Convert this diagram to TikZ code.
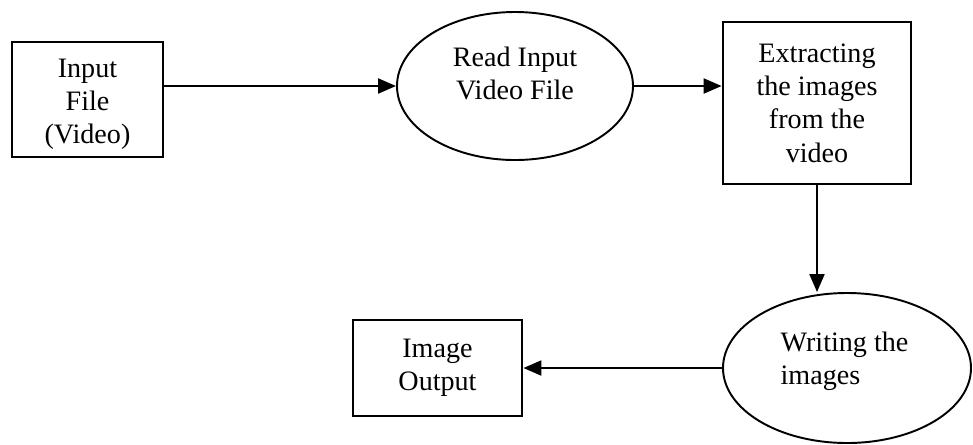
\documentclass[tikz,border=0pt]{standalone}
\usepackage{fontspec}
\setmainfont{Liberation Serif}
\usetikzlibrary{arrows.meta, shapes.geometric}

\tikzset{
    box/.style  = {draw, line width = 1.6pt, align = center, inner sep = 0pt},
    oval/.style = {draw, ellipse, line width = 1.1pt, inner sep = 0pt},
    flow/.style = {line width = 1.2pt, -{Triangle[length = 0.36cm, width = 0.3cm]}}
}

\begin{document}
\begin{tikzpicture}[font = \fontsize{16pt}{19pt}\selectfont]
        \useasboundingbox (0, 0) rectangle (19.46, -8.88);

        \node (1) [box, minimum width = 3.02cm, minimum height = 2.3cm]  at (1.75, -1.99)  {\rule{0pt}{0.56cm}Input\\File\\(Video)};
        \node (2) [oval, minimum width = 4.72cm, minimum height = 2.96cm, align = center] at (10.3, -1.72) {Read Input\\Video File\rule[-0.5cm]{0pt}{0pt}};
        \node (3) [box, minimum width = 3.76cm, minimum height = 3.24cm] at (16.34, -2.06) {Extracting\\the images\\from the\\video};
        \node (4) [oval, minimum width = 4.96cm, minimum height = 3.0cm, align = left] at (16.94, -7.36) {\hspace{-0.1cm}Writing the\\\hspace{-0.1cm}images\rule[-0.4cm]{0pt}{0pt}};
        \node (5) [box, minimum width = 3.38cm, minimum height = 1.92cm] at (8.75, -7.36)  {Image\\Output};

        \draw[flow] (1.east |- 2.west) -- (2.west);
        \draw[flow] (2.east) -- (3.west |- 2.east);
        \draw[flow] (3.south) -- (3.south |- 4.north);
        \draw[flow] (4.west) -- (5.east);

    \end{tikzpicture}
\end{document}
